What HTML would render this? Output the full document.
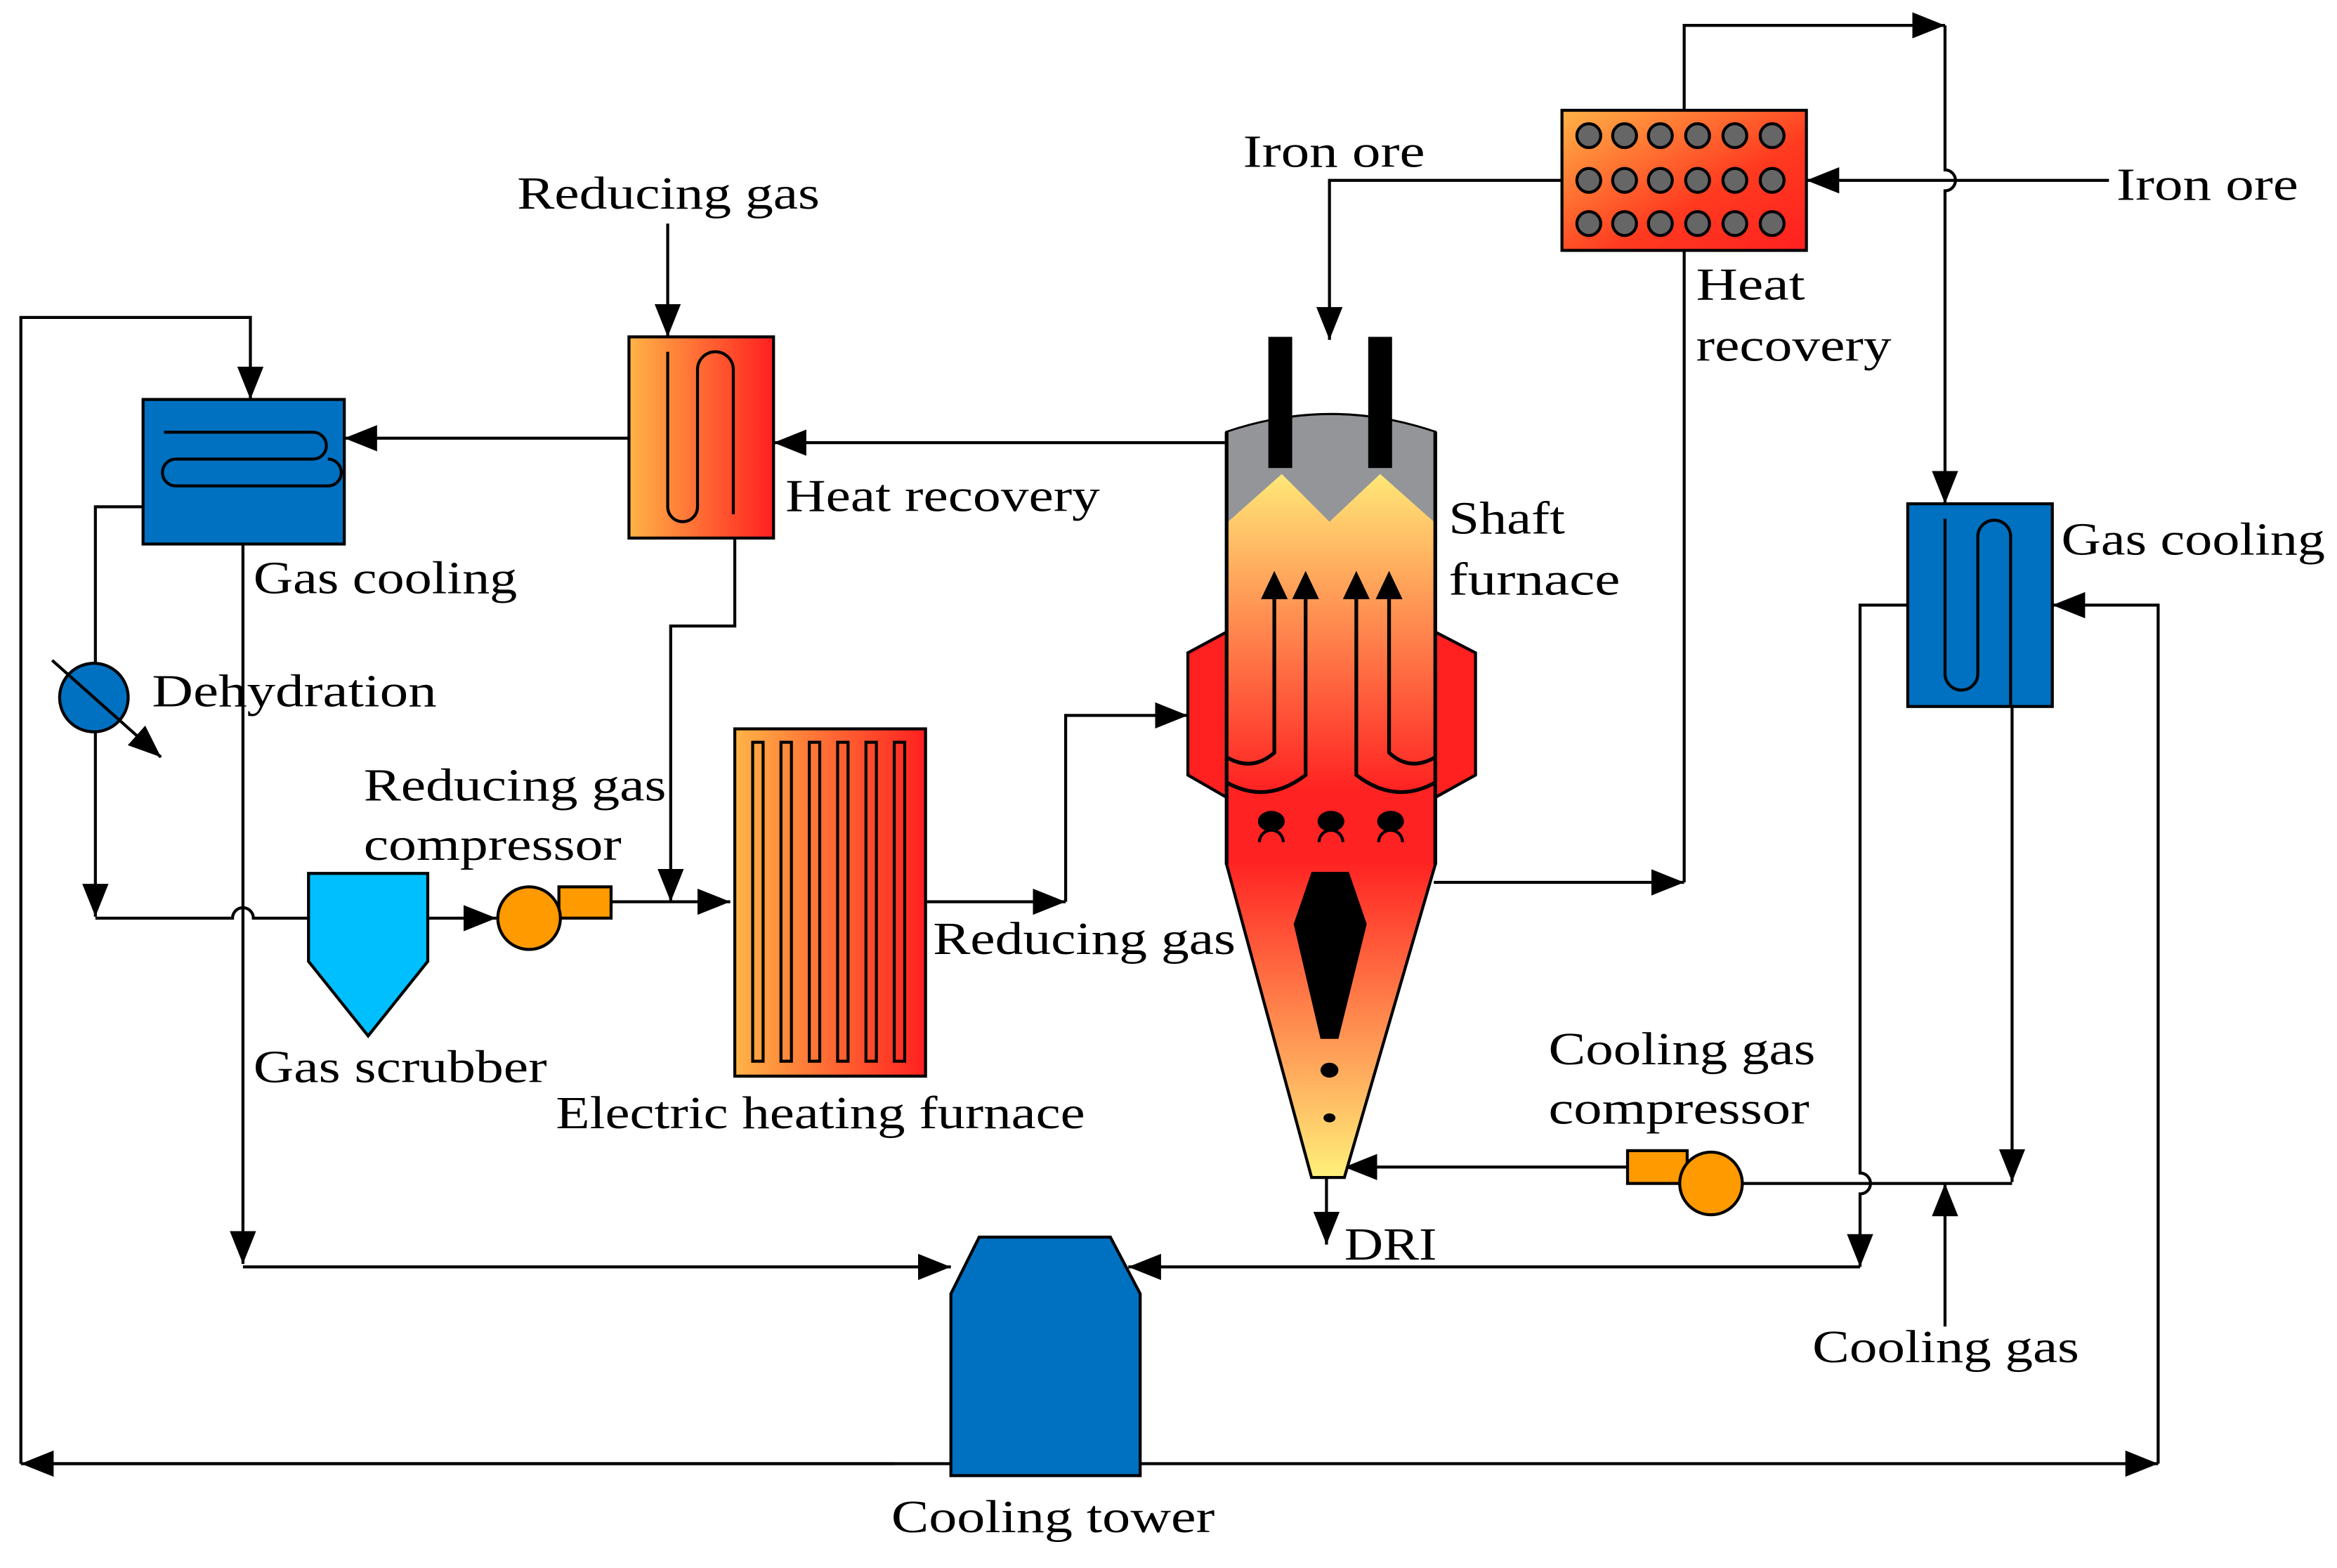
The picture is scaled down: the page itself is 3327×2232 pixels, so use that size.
<!DOCTYPE html>
<html><head><meta charset="utf-8"><style>html,body{margin:0;padding:0;background:#fff}svg{display:block}text{font-family:"Liberation Serif",serif;font-size:31px;fill:#000}</style></head><body>
<svg width="3327" height="2232" viewBox="0 0 1568 1052" preserveAspectRatio="none" xmlns="http://www.w3.org/2000/svg">
<defs>
<marker id="a" viewBox="0 0 10 10" refX="10" refY="5" markerWidth="22" markerHeight="22" markerUnits="userSpaceOnUse" orient="auto"><path d="M0,1 L10,5 L0,9 z" fill="#000"/></marker>
<linearGradient id="hr" x1="0" y1="0" x2="1" y2="0"><stop offset="0" stop-color="#ffb347"/><stop offset="1" stop-color="#ff2020"/></linearGradient>
<linearGradient id="hr2" x1="0" y1="0" x2="1" y2="1"><stop offset="0" stop-color="#ffb347"/><stop offset="0.6" stop-color="#ff3a20"/><stop offset="1" stop-color="#ff2020"/></linearGradient>
<linearGradient id="fg" x1="0" y1="318" x2="0" y2="790" gradientUnits="userSpaceOnUse"><stop offset="0" stop-color="#ffe878"/><stop offset="0.45" stop-color="#ff2222"/><stop offset="0.55" stop-color="#ff2222"/><stop offset="1" stop-color="#fff07a"/></linearGradient>
</defs>
<g fill="none" stroke="#000" stroke-width="2">
<!-- top right -->
<polyline points="1130,74 1130,17 1305,17" marker-end="url(#a)"/>
<path d="M1305,17 V114 a7,7 0 0 1 0,14 V338" marker-end="url(#a)"/>
<line x1="1415" y1="121" x2="1212" y2="121" marker-end="url(#a)"/>
<polyline points="1048,121 892,121 892,228" marker-end="url(#a)"/>
<polyline points="962,592 1130,592" marker-end="url(#a)"/>
<line x1="1130" y1="592" x2="1130" y2="168"/>
<!-- right gas cooling -->
<polyline points="1350,360 1350,793" marker-end="url(#a)"/>
<line x1="1168" y1="794" x2="1350" y2="794"/>
<line x1="1305" y1="890" x2="1305" y2="794" marker-end="url(#a)"/>
<path d="M1280,406 H1248 V787 a7,7 0 0 1 0,14 V850" marker-end="url(#a)"/>
<polyline points="1248,850 757,850" marker-end="url(#a)"/>
<polyline points="1448,982 1448,406 1377,406" marker-end="url(#a)"/>
<line x1="1092" y1="783" x2="902" y2="783" marker-end="url(#a)"/>
<line x1="890" y1="790" x2="890" y2="835" marker-end="url(#a)"/>
<!-- bottom loop -->
<line x1="30" y1="982" x2="1448" y2="982" marker-end="url(#a)"/>
<line x1="600" y1="982" x2="14" y2="982" marker-end="url(#a)"/>
<polyline points="14,982 14,213 168,213 168,268" marker-end="url(#a)"/>
<!-- left -->
<line x1="422" y1="294" x2="231" y2="294" marker-end="url(#a)"/>
<line x1="448" y1="150" x2="448" y2="226" marker-end="url(#a)"/>
<line x1="823" y1="297" x2="519" y2="297" marker-end="url(#a)"/>
<polyline points="493,345 493,420 450,420 450,605" marker-end="url(#a)"/>
<line x1="410" y1="605" x2="490" y2="605" marker-end="url(#a)"/>
<polyline points="96,340 64,340 64,615" marker-end="url(#a)"/>
<path d="M64,616 H156 a7,7 0 0 1 14,0 H207"/>
<polyline points="163,365 163,848" marker-end="url(#a)"/>
<line x1="163" y1="850" x2="638" y2="850" marker-end="url(#a)"/>
<line x1="287" y1="616" x2="333" y2="616" marker-end="url(#a)"/>
<polyline points="621,605 715,605" marker-end="url(#a)"/>
<polyline points="715,605 715,480 797,480" marker-end="url(#a)"/>
</g>
<!-- top right heat recovery -->
<rect x="1048" y="74" width="164" height="94" fill="url(#hr2)" stroke="#000" stroke-width="2"/>
<g fill="#666" stroke="#000" stroke-width="2">
<circle cx="1066" cy="91" r="8"/><circle cx="1090" cy="91" r="8"/><circle cx="1114" cy="91" r="8"/><circle cx="1139" cy="91" r="8"/><circle cx="1164" cy="91" r="8"/><circle cx="1189" cy="91" r="8"/>
<circle cx="1066" cy="121" r="8"/><circle cx="1090" cy="121" r="8"/><circle cx="1114" cy="121" r="8"/><circle cx="1139" cy="121" r="8"/><circle cx="1164" cy="121" r="8"/><circle cx="1189" cy="121" r="8"/>
<circle cx="1066" cy="150" r="8"/><circle cx="1090" cy="150" r="8"/><circle cx="1114" cy="150" r="8"/><circle cx="1139" cy="150" r="8"/><circle cx="1164" cy="150" r="8"/><circle cx="1189" cy="150" r="8"/>
</g>
<!-- right gas cooling -->
<rect x="1280" y="338" width="97" height="136" fill="#0070c0" stroke="#000" stroke-width="2"/>
<path d="M1305,348 V452 a11,11 0 0 0 22,0 V360 a11,11 0 0 1 22,0 V474" fill="none" stroke="#000" stroke-width="2"/>
<!-- cooling gas compressor -->
<rect x="1092" y="772" width="40" height="22" fill="#ff9a00" stroke="#000" stroke-width="2"/>
<circle cx="1148" cy="794" r="21" fill="#ff9a00" stroke="#000" stroke-width="2"/>
<!-- shaft furnace -->
<polygon points="823,424 797,438 797,520 823,535" fill="#ff2020" stroke="#000" stroke-width="2"/>
<polygon points="963,424 990,438 990,520 963,535" fill="#ff2020" stroke="#000" stroke-width="2"/>
<path d="M823,290 Q893,266 963,290 V580 L902,790 H880 L823,580 Z" fill="url(#fg)" stroke="#000" stroke-width="2"/>
<path d="M824,290 Q893,267 962,290 V350 L926,318 L892,350 L860,318 L824,350 Z" fill="#939598"/>
<line x1="823" y1="290" x2="823" y2="580" stroke="#000" stroke-width="2.5"/>
<line x1="963" y1="290" x2="963" y2="580" stroke="#000" stroke-width="2.5"/>
<rect x="851" y="226" width="16" height="88" fill="#000"/><rect x="918" y="226" width="16" height="88" fill="#000"/>
<g fill="none" stroke="#000" stroke-width="2.5">
<path d="M855,400 V505 Q840,518 823,508"/><path d="M876,400 V520 Q850,540 823,525"/>
<path d="M932,400 V505 Q946,518 963,508"/><path d="M910,400 V520 Q936,540 963,525"/>
<path d="M845,565 a8,8 0 0 1 16,0 M885,565 a8,8 0 0 1 16,0 M925,565 a8,8 0 0 1 16,0" stroke-width="2"/>
</g>
<g fill="#000">
<polygon points="846,402 855,383 864,402"/><polygon points="867,402 876,383 885,402"/>
<polygon points="901,402 910,383 919,402"/><polygon points="923,402 932,383 941,402"/>
<ellipse cx="853" cy="551" rx="9" ry="7"/><ellipse cx="893" cy="551" rx="9" ry="7"/><ellipse cx="933" cy="551" rx="9" ry="7"/>
<polygon points="880,585 905,585 917,620 898,697 886,697 868,620"/>
<ellipse cx="892" cy="718" rx="6" ry="5"/><ellipse cx="892" cy="750" rx="4" ry="3"/>
</g>
<!-- cooling tower -->
<polygon points="657,830 745,830 765,868 765,990 638,990 638,868" fill="#0070c0" stroke="#000" stroke-width="2"/>
<!-- left gas cooling -->
<rect x="96" y="268" width="135" height="97" fill="#0070c0" stroke="#000" stroke-width="2"/>
<path d="M110,290 H210 a9,9 0 0 1 0,18 H118 a9,9 0 0 0 0,18 H220 a9,9 0 0 0 0,-18" fill="none" stroke="#000" stroke-width="2"/>
<!-- mid heat recovery -->
<rect x="422" y="226" width="97" height="135" fill="url(#hr)" stroke="#000" stroke-width="2"/>
<path d="M448,236 V340 a10,10 0 0 0 20,0 V248 a12,12 0 0 1 24,0 V345" fill="none" stroke="#000" stroke-width="2"/>
<!-- dehydration -->
<circle cx="63" cy="468" r="23" fill="#0070c0" stroke="#000" stroke-width="2"/>
<line x1="35" y1="443" x2="108" y2="508" stroke="#000" stroke-width="2" marker-end="url(#a)"/>
<!-- scrubber -->
<polygon points="207,586 287,586 287,645 247,695 207,645" fill="#00bfff" stroke="#000" stroke-width="2"/>
<!-- reducing gas compressor -->
<rect x="375" y="595" width="35" height="21" fill="#ff9a00" stroke="#000" stroke-width="2"/>
<circle cx="355" cy="616" r="21" fill="#ff9a00" stroke="#000" stroke-width="2"/>
<!-- EHF -->
<rect x="493" y="489" width="128" height="233" fill="url(#hr)" stroke="#000" stroke-width="2"/>
<g fill="none" stroke="#000" stroke-width="2">
<rect x="505" y="498" width="7" height="214"/><rect x="524" y="498" width="7" height="214"/><rect x="543" y="498" width="7" height="214"/><rect x="562" y="498" width="7" height="214"/><rect x="581" y="498" width="7" height="214"/><rect x="600" y="498" width="7" height="214"/>
</g>
<!-- labels -->
<text x="347" y="140" textLength="203" lengthAdjust="spacingAndGlyphs">Reducing gas</text>
<text x="527" y="343" textLength="211" lengthAdjust="spacingAndGlyphs">Heat recovery</text>
<text x="170" y="398" textLength="177" lengthAdjust="spacingAndGlyphs">Gas cooling</text>
<text x="102" y="474" textLength="191" lengthAdjust="spacingAndGlyphs">Dehydration</text>
<text x="244" y="537" textLength="203" lengthAdjust="spacingAndGlyphs">Reducing gas</text>
<text x="244" y="577" textLength="173" lengthAdjust="spacingAndGlyphs">compressor</text>
<text x="170" y="726" textLength="197" lengthAdjust="spacingAndGlyphs">Gas scrubber</text>
<text x="373" y="757" textLength="355" lengthAdjust="spacingAndGlyphs">Electric heating furnace</text>
<text x="626" y="640" textLength="203" lengthAdjust="spacingAndGlyphs">Reducing gas</text>
<text x="972" y="358" textLength="78" lengthAdjust="spacingAndGlyphs">Shaft</text>
<text x="972" y="399" textLength="115" lengthAdjust="spacingAndGlyphs">furnace</text>
<text x="834" y="112" textLength="122" lengthAdjust="spacingAndGlyphs">Iron ore</text>
<text x="1138" y="201" textLength="73" lengthAdjust="spacingAndGlyphs">Heat</text>
<text x="1138" y="242" textLength="131" lengthAdjust="spacingAndGlyphs">recovery</text>
<text x="1420" y="134" textLength="122" lengthAdjust="spacingAndGlyphs">Iron ore</text>
<text x="1383" y="372" textLength="177" lengthAdjust="spacingAndGlyphs">Gas cooling</text>
<text x="1039" y="714" textLength="179" lengthAdjust="spacingAndGlyphs">Cooling gas</text>
<text x="1039" y="754" textLength="175" lengthAdjust="spacingAndGlyphs">compressor</text>
<text x="902" y="845" textLength="62" lengthAdjust="spacingAndGlyphs">DRI</text>
<text x="1216" y="914" textLength="179" lengthAdjust="spacingAndGlyphs">Cooling gas</text>
<text x="598" y="1028" textLength="217" lengthAdjust="spacingAndGlyphs">Cooling tower</text>
</svg>
</body></html>
